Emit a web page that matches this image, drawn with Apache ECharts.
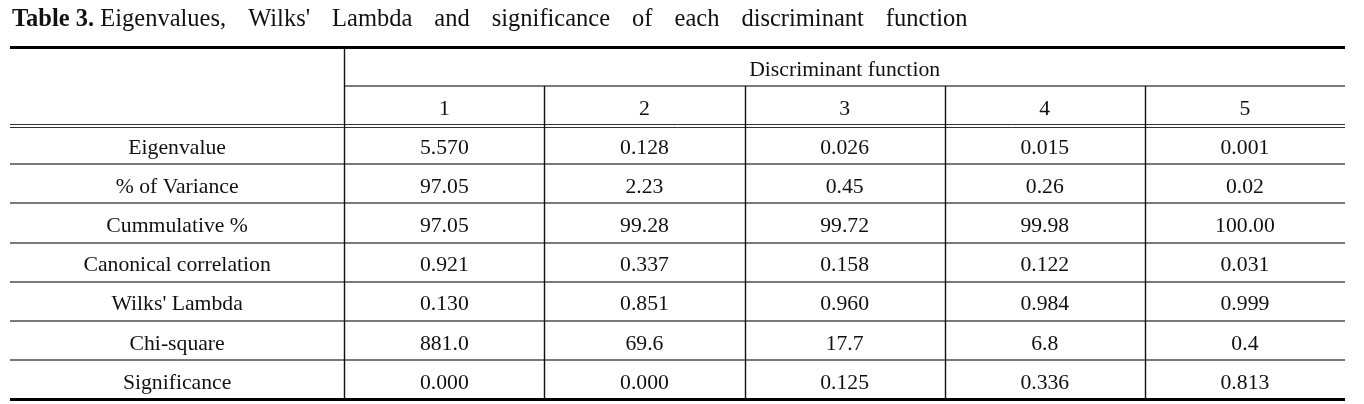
<!DOCTYPE html>
<html>
<head>
<meta charset="utf-8">
<script src="https://cdn.jsdelivr.net/npm/echarts@6/dist/echarts.min.js"></script>
<style>
  html, body { margin: 0; padding: 0; background: #fff; }
  #chart { width: 1364px; height: 404px; }
</style>
</head>
<body>
<div id="chart"></div>
<script>
// ---- Data ----
const tableLabel = "Table 3.";
const tableTitle = "Eigenvalues, Wilks' Lambda and significance of each discriminant function";
const groupHeader = "Discriminant function";
const functions = ["1", "2", "3", "4", "5"];
const rowLabels = ["Eigenvalue", "% of Variance", "Cummulative %", "Canonical correlation", "Wilks' Lambda", "Chi-square", "Significance"];
const eigenvalue = ["5.570", "0.128", "0.026", "0.015", "0.001"];
const pctVariance = ["97.05", "2.23", "0.45", "0.26", "0.02"];
const cumulativePct = ["97.05", "99.28", "99.72", "99.98", "100.00"];
const canonicalCorr = ["0.921", "0.337", "0.158", "0.122", "0.031"];
const wilksLambda = ["0.130", "0.851", "0.960", "0.984", "0.999"];
const chiSquare = ["881.0", "69.6", "17.7", "6.8", "0.4"];
const significance = ["0.000", "0.000", "0.125", "0.336", "0.813"];
const rowValues = [eigenvalue, pctVariance, cumulativePct, canonicalCorr, wilksLambda, chiSquare, significance];

// ---- Layout (table structure in axis units) ----
const LABEL_W = 1.67;                 // width of the row-label column, in value-column units
const NCOL = functions.length;
const HEADER_ROWS = 2;
const NROW = HEADER_ROWS + rowLabels.length;
const FONT = "'Liberation Serif', 'DejaVu Serif', serif";
const FS = 21.7;
const TFS = 24.5;

// cells: [x0, x1, y0, y1, text]
const cells = [];
cells.push([LABEL_W, LABEL_W + NCOL, 0, 1, groupHeader]);
functions.forEach((f, i) => cells.push([LABEL_W + i, LABEL_W + i + 1, 1, 2, f]));
rowLabels.forEach((lab, r) => {
  const y = HEADER_ROWS + r;
  cells.push([0, LABEL_W, y, y + 1, lab]);
  rowValues[r].forEach((v, i) => cells.push([LABEL_W + i, LABEL_W + i + 1, y, y + 1, v]));
});

// rules: [x0, x1, y0, y1, kind]
const XMAX = LABEL_W + NCOL;
const rules = [];
rules.push([0, XMAX, 0, 0, 'thick']);
rules.push([LABEL_W, XMAX, 1, 1, 'thin']);
rules.push([0, XMAX, 2, 2, 'double']);
for (let y = 3; y < NROW; y++) rules.push([0, XMAX, y, y, 'thin']);
rules.push([0, XMAX, NROW, NROW, 'thickB']);
rules.push([LABEL_W, LABEL_W, 0, NROW, 'vert']);
for (let i = 1; i < NCOL; i++) rules.push([LABEL_W + i, LABEL_W + i, 1, NROW, 'vert']);

// title with wide word spacing (as in the typeset original)
const titleText = '{b|' + tableLabel + '} ' +
  tableTitle.split(' ').map(w => '{w|' + w + '}').join('{g| }');

const chart = echarts.init(document.getElementById('chart'), null, { renderer: 'canvas' });

function crisp(v, w) {
  return (Math.round(v) + ((w % 2) ? 0.5 : 0));
}

chart.setOption({
  animation: false,
  backgroundColor: '#fff',
  title: {
    text: titleText,
    left: 7,
    top: 2,
    textStyle: {
      fontFamily: FONT,
      fontSize: TFS,
      fontWeight: 'normal',
      color: '#111',
      rich: {
        b: { fontFamily: FONT, fontSize: TFS, fontWeight: 'bold', color: '#111' },
        w: { fontFamily: FONT, fontSize: TFS, color: '#111' },
        g: { fontFamily: FONT, fontSize: TFS, color: '#111', width: 22 }
      }
    }
  },
  grid: { left: 10, right: 19, top: 47, bottom: 5 },
  xAxis: { type: 'value', min: 0, max: XMAX, show: false },
  yAxis: { type: 'value', min: 0, max: NROW, inverse: true, show: false },
  series: [
    {
      type: 'custom',
      name: 'cells',
      silent: true,
      data: cells,
      encode: { x: [0, 1], y: [2, 3] },
      renderItem: function (params, api) {
        const p0 = api.coord([api.value(0), api.value(2)]);
        const p1 = api.coord([api.value(1), api.value(3)]);
        return {
          type: 'text',
          x: (p0[0] + p1[0]) / 2,
          y: (p0[1] + p1[1]) / 2 + 3.5,
          style: {
            text: cells[params.dataIndex][4],
            fill: '#111',
            font: FS + 'px ' + FONT,
            textAlign: 'center',
            textVerticalAlign: 'middle'
          }
        };
      }
    },
    {
      type: 'custom',
      name: 'rules',
      silent: true,
      z: 3,
      data: rules,
      encode: { x: [0, 1], y: [2, 3] },
      renderItem: function (params, api) {
        const kind = rules[params.dataIndex][4];
        const p0 = api.coord([api.value(0), api.value(2)]);
        const p1 = api.coord([api.value(1), api.value(3)]);
        const x0 = Math.round(p0[0]), x1 = Math.round(p1[0]);
        if (kind === 'vert') {
          const x = crisp(p0[0], 1);
          return { type: 'line', shape: { x1: x, y1: Math.round(p0[1]), x2: x, y2: Math.round(p1[1]) },
                   style: { stroke: '#111', lineWidth: 1.4 } };
        }
        if (kind === 'thick' || kind === 'thickB') {
          const y = crisp(p0[1], 3);
          return { type: 'line', shape: { x1: x0, y1: y, x2: x1, y2: y },
                   style: { stroke: '#000', lineWidth: 3 } };
        }
        if (kind === 'double') {
          const yc = p0[1];
          const ya = crisp(yc - 1.5, 1), yb = crisp(yc + 1.5, 1);
          return { type: 'group', children: [
            { type: 'line', shape: { x1: x0, y1: ya, x2: x1, y2: ya }, style: { stroke: '#333', lineWidth: 1 } },
            { type: 'line', shape: { x1: x0, y1: yb, x2: x1, y2: yb }, style: { stroke: '#333', lineWidth: 1 } }
          ] };
        }
        const y = crisp(p0[1], 2);
        return { type: 'line', shape: { x1: x0, y1: y, x2: x1, y2: y },
                 style: { stroke: '#7a7a7a', lineWidth: 2 } };
      }
    }
  ]
});
</script>
</body>
</html>
